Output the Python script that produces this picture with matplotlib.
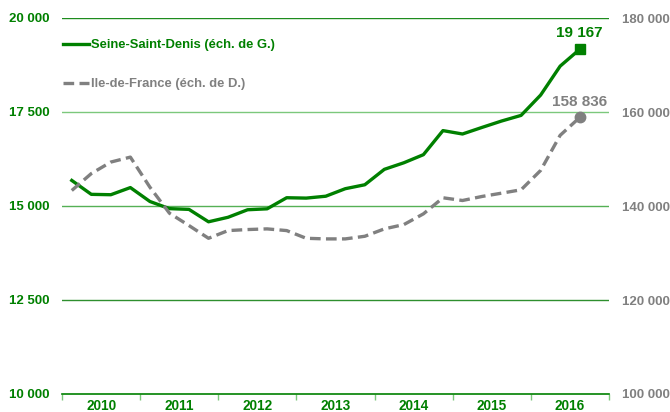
import numpy as np
import matplotlib
matplotlib.use('Agg')
import matplotlib.pyplot as plt
from matplotlib.lines import Line2D

plt.rcParams['font.family'] = ['Liberation Sans', 'DejaVu Sans']

years = ['2010', '2011', '2012', '2013', '2014', '2015', '2016']

# quarterly values, 2010 Q1 -> 2016 Q3
ssd = [15680, 15310, 15300, 15490, 15120, 14930, 14910, 14580,
       14700, 14900, 14925, 15220, 15210, 15260, 15460, 15565,
       15975, 16150, 16365, 17005, 16915, 17090, 17260, 17410,
       17950, 18720, 19167]
idf = [143300, 146900, 149350, 150400, 144000, 138470, 135840, 133130,
       134770, 134990, 135130, 134770, 133130, 133000, 133000, 133560,
       135130, 136050, 138330, 141750, 141170, 142030, 142730, 143450,
       147570, 155040, 158836]

green = '#008000'
grey = '#808080'
dash = (0, (3.2, 1.6))

fig = plt.figure(figsize=(6.7, 4.12), dpi=100)
ax = fig.add_axes([62/670, 1-394/412, (609-62)/670, (394-18)/412])
ax2 = ax.twinx()

x = (np.arange(len(ssd)) + 0.5) / 4.0

# gridlines
grid_cols = {20000: '#1e8c1e', 17500: '#7cc87c', 15000: '#55b055', 12500: '#2e8f2e'}
for yv, c in grid_cols.items():
    ax.axhline(yv, color=c, lw=1, zorder=1)

ax.plot(x, ssd, color=green, lw=2.4, zorder=4)
ax.plot(x[-1], ssd[-1], marker='s', ms=7.5, color=green, zorder=5)
ax.annotate('19 167', (x[-1], ssd[-1]), xytext=(0, 7), textcoords='offset points',
            ha='center', va='bottom', color=green, fontsize=11, fontweight='bold')

ax2.plot(x, idf, color=grey, lw=2.4, ls=dash, zorder=4)
ax2.plot(x[-1], idf[-1], marker='o', ms=7.5, color=grey, zorder=5)
ax2.annotate('158 836', (x[-1], idf[-1]), xytext=(0, 6), textcoords='offset points',
             ha='center', va='bottom', color=grey, fontsize=11, fontweight='bold')

ax.set_xlim(0, 7)
ax.set_ylim(10000, 20000)
ax2.set_ylim(100000, 180000)

def fmt(v):
    return '{:,}'.format(int(v)).replace(',', ' ')

lt = [10000, 12500, 15000, 17500, 20000]
ax.set_yticks(lt)
ax.set_yticklabels([fmt(v) for v in lt], color=green, fontsize=9.5, fontweight='bold')
rt = [100000, 120000, 140000, 160000, 180000]
ax2.set_yticks(rt)
ax2.set_yticklabels([fmt(v) for v in rt], color=grey, fontsize=9.5, fontweight='bold')
ax.tick_params(axis='y', length=0, pad=9)
ax2.tick_params(axis='y', length=0, pad=9)

ax.set_xticks(np.arange(7) + 0.5)
ax.set_xticklabels(years, color=green, fontsize=9.8, fontweight='bold')
ax.set_xticks(np.arange(8), minor=True)
ax.tick_params(axis='x', which='major', length=0, pad=3.5)
ax.tick_params(axis='x', which='minor', length=4, color='#7cc87c', width=1)

for a in (ax, ax2):
    for s in ['top', 'left', 'right', 'bottom']:
        a.spines[s].set_visible(False)
ax.axhline(10000, color=green, lw=1.2, zorder=2, clip_on=False)

# legend
handles = [Line2D([], [], color=green, lw=2.4),
           Line2D([], [], color=grey, lw=2.4, ls=dash)]
leg = ax.legend(handles, ['Seine-Saint-Denis (éch. de G.)', 'Ile-de-France (éch. de D.)'],
                loc='upper left', bbox_to_anchor=(-0.02, 0.975), frameon=False,
                handlelength=2.0, handletextpad=0.15, labelspacing=2.05,
                prop={'size': 9.4, 'weight': 'bold'})
for t, c in zip(leg.get_texts(), [green, grey]):
    t.set_color(c)

fig.savefig('out.png', dpi=100)
